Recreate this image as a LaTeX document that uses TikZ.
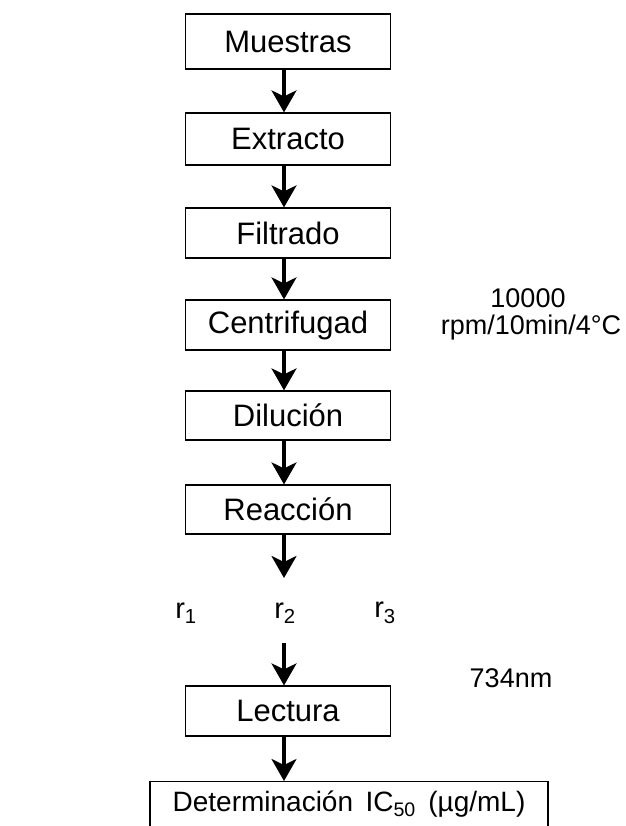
\documentclass[tikz,border=0pt]{standalone}
\usepackage{fontspec}
\setmainfont{Liberation Sans}
\usetikzlibrary{arrows.meta}
\begin{document}
\begin{tikzpicture}[x=1pt,y=-1pt,
  stepbox/.style={draw, line width=1.2pt, minimum width=205pt, inner sep=0pt,
    font=\fontsize{31}{36}\selectfont},
  flow/.style={-{Stealth[length=22pt,width=25pt,inset=6pt]}, line width=3.2pt},
  side/.style={font=\fontsize{27}{32}\selectfont, inner sep=0pt},
  rlab/.style={font=\fontsize{29}{34}\selectfont, inner sep=0pt}]
\useasboundingbox (0,0) rectangle (625,826);
\node[stepbox, minimum height=55pt] (m) at (288,41.5) {Muestras};
\node[stepbox, minimum height=52pt] (e) at (288,139) {Extracto};
\node[stepbox, minimum height=50pt] (f) at (288,233) {Filtrado};
\node[stepbox, minimum height=50pt] (c) at (288,325) {Centrifugad};
\node[stepbox, minimum height=49pt] (di) at (288,415.5) {Dilución};
\node[stepbox, minimum height=49pt] (re) at (288,509.5) {Reacción};
\node[rlab] (r1) at (186,613) {r\textsubscript{1}};
\node[rlab] (r2) at (285,613) {r\textsubscript{2}};
\node[rlab] (r3) at (385,613) {r\textsubscript{3}};
\node[stepbox, minimum height=50pt] (l) at (288,711) {Lectura};
\node[draw, line width=1.2pt, minimum width=398pt, inner sep=0pt,
  text height=30pt, text depth=38pt, anchor=north,
  font=\fontsize{28}{34}\selectfont] (d) at (349,781)
  {Determinación\, IC\textsubscript{50}\, (µg/mL)};
\node[side] (n1) at (528,298) {10000};
\node[side] (n2) at (531,328) {rpm/10min/4°C};
\node[side] (n3) at (511,678) {734nm};
\coordinate (rend) at (284,578);
\coordinate (rstart) at (284,643);
\draw[flow] ([xshift=-4pt]m.south) -- ([xshift=-4pt]e.north);
\draw[flow] ([xshift=-4pt]e.south) -- ([xshift=-4pt]f.north);
\draw[flow] ([xshift=-4pt]f.south) -- ([xshift=-4pt]c.north);
\draw[flow] ([xshift=-4pt]c.south) -- ([xshift=-4pt]di.north);
\draw[flow] ([xshift=-4pt]di.south) -- ([xshift=-4pt]re.north);
\draw[flow] ([xshift=-4pt]re.south) -- (rend);
\draw[flow] (rstart) -- ([xshift=-4pt]l.north);
\draw[flow] ([xshift=-4pt]l.south) -- (d.north -| rstart);
\end{tikzpicture}
\end{document}
